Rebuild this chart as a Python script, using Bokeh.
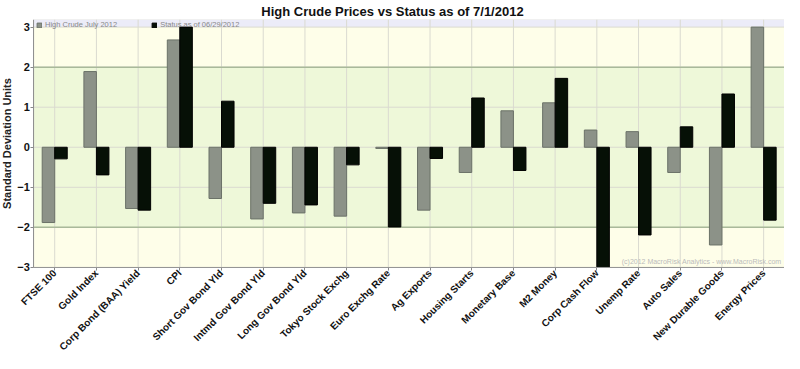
from math import pi
from bokeh.plotting import figure
from bokeh.models import (ColumnDataSource, Range1d, BoxAnnotation, Legend, LegendItem, Label,
                          FixedTicker)
from bokeh.transform import dodge
from bokeh.embed import file_html
from bokeh.resources import INLINE

categories = ["FTSE 100", "Gold Index", "Corp Bond (BAA) Yield", "CPI", "Short Gov Bond Yld",
              "Intmd Gov Bond Yld", "Long Gov Bond Yld", "Tokyo Stock Exchg", "Euro Exchg Rate",
              "Ag Exports", "Housing Starts", "Monetary Base", "M2 Money", "Corp Cash Flow",
              "Unemp Rate", "Auto Sales", "New Durable Goods", "Energy Prices"]
high_crude = [-1.88, 1.89, -1.53, 2.68, -1.28, -1.79, -1.64, -1.72, -0.03,
              -1.57, -0.63, 0.91, 1.11, 0.43, 0.39, -0.63, -2.44, 3.0]
status = [-0.29, -0.69, -1.57, 3.0, 1.15, -1.40, -1.44, -0.44, -1.99,
          -0.28, 1.23, -0.58, 1.72, -3.0, -2.19, 0.51, 1.33, -1.82]
series_names = ["High Crude July 2012", "Status as of 06/29/2012"]
yticks = [-3, -2, -1, 0, 1, 2, 3]
band = (-2, 2)
YMIN, YMAX, YTOP = -3, 3, 3.19

FONT = "Liberation Sans"
n = len(categories)
xs = [i + 0.5 for i in range(n)]

src = ColumnDataSource(dict(x=xs, cat=categories, a=high_crude, b=status,
                            y0=[YMIN] * n, y1=[YTOP] * n))
grid_src = ColumnDataSource(dict(y=yticks, x0=[0] * len(yticks), x1=[n] * len(yticks)))
band_src = ColumnDataSource(dict(y=list(band), x0=[0] * 2, x1=[n] * 2))

p = figure(width=784, height=353, output_backend="svg", toolbar_location=None,
           x_range=Range1d(-0.8, n), y_range=Range1d(-5.15, YTOP),
           title="High Crude Prices vs Status as of 7/1/2012",
           min_border_left=0, min_border_right=0, min_border_top=2, min_border_bottom=0)

p.title.align = "center"
p.title.text_font = FONT
p.title.text_font_size = "13px"
p.title.text_font_style = "bold"
p.title.text_color = "#111111"
p.title.standoff = 2

p.background_fill_color = "white"
p.border_fill_color = "white"
p.outline_line_color = None
p.xgrid.visible = False
p.ygrid.visible = False

p.add_layout(BoxAnnotation(left=0, right=n, bottom=YMIN, top=YTOP, fill_color="#FEFEE9",
                           fill_alpha=1, line_alpha=0, level="underlay"))
p.add_layout(BoxAnnotation(left=0, right=n, bottom=band[0], top=band[1], fill_color="#EEF8D9",
                           fill_alpha=1, line_alpha=0, level="underlay"))
p.add_layout(BoxAnnotation(left=0, right=n, bottom=YMAX, top=YTOP, fill_color="#ECECF8",
                           fill_alpha=1, line_alpha=0, level="underlay"))

# grid lines
p.segment(x0="x0", y0="y", x1="x1", y1="y", source=grid_src, line_color="#DADAD0", line_width=1)
p.segment(x0="x", y0="y0", x1="x", y1="y1", source=src, line_color="#DADAD0", line_width=1)
p.segment(x0="x0", y0="y", x1="x1", y1="y", source=band_src, line_color="#A9B99A",
          line_width=1.5)

ra = p.vbar(x=dodge("x", -0.15), top="a", bottom=0, width=0.3,
            source=src, fill_color="#8C9288", line_color="#6B7268", line_width=1)
rb = p.vbar(x=dodge("x", 0.15), top="b", bottom=0, width=0.3,
            source=src, fill_color="#061006", line_color="#000000", line_width=1)

# frame border
p.add_layout(BoxAnnotation(left=0, right=n, bottom=YMIN, top=YTOP, fill_alpha=0,
                           line_color="#BBBBBB", line_width=1))

legend = Legend(items=[LegendItem(label=series_names[0], renderers=[ra]),
                       LegendItem(label=series_names[1], renderers=[rb])],
                orientation="horizontal", location=(35, 323),
                label_text_font=FONT, label_text_font_size="7.5px", label_text_color="#888888",
                glyph_width=6, glyph_height=6, label_height=6, label_standoff=3,
                spacing=34, padding=1, margin=0, background_fill_alpha=0,
                border_line_alpha=0)
p.add_layout(legend)

p.add_layout(Label(x=n - 0.07, y=YMIN + 0.07,
                   text="(c)2012 MacroRisk Analytics - www.MacroRisk.com",
                   text_align="right", text_font=FONT, text_font_size="7px",
                   text_color="#BBBBBB"))

xa = p.xaxis[0]
xa.fixed_location = YMIN
xa.bounds = (0, n)
xa.ticker = FixedTicker(ticks=xs)
xa.major_label_overrides = {x: c for x, c in zip(xs, categories)}
xa.major_label_orientation = pi / 4
xa.major_label_text_font_size = "10px"

ya = p.yaxis[0]
ya.fixed_location = 0
ya.ticker = yticks
ya.bounds = (YMIN, YTOP)
ya.axis_label = "Standard Deviation Units"
ya.axis_label_text_font = FONT
ya.axis_label_text_font_size = "11px"
ya.axis_label_text_font_style = "bold"
ya.axis_label_text_color = "#222222"
ya.axis_label_standoff = 1
ya.major_label_text_font_size = "11px"

for ax in (xa, ya):
    ax.major_label_text_font = FONT
    ax.major_label_text_font_style = "bold"
    ax.major_label_text_color = "#111111"
    ax.axis_line_color = "#888888"
    ax.major_tick_line_color = "#888888"
    ax.major_tick_out = 3
    ax.major_tick_in = 0
    ax.minor_tick_line_color = None
    ax.major_label_standoff = 1

open("out.html", "w").write(file_html(p, INLINE))
